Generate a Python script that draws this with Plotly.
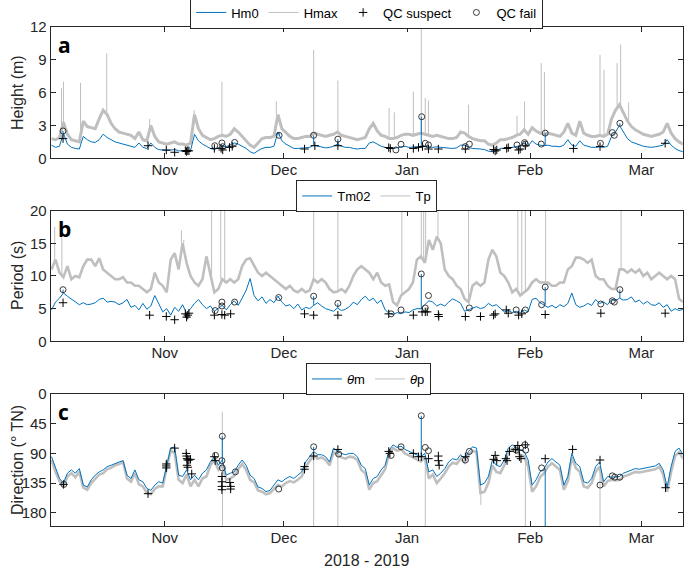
import numpy as np
import pandas as pd
import plotly.graph_objects as go

# ---------------- data ----------------
T0 = "2018-10-03 12:00"   # first daily sample
N_DAYS = 160

hm0 = [1.2,1.0,1.1,2.3,1.3,1.0,0.9,0.85,2.0,1.7,
       1.5,1.45,1.7,2.2,1.9,1.7,1.5,1.4,1.3,1.2,
       1.1,1.0,1.4,1.0,0.9,1.4,1.0,0.8,0.75,0.7,
       0.75,0.8,0.7,0.65,0.6,0.7,2.2,1.6,1.3,1.1,
       0.9,0.8,0.95,1.1,1.05,1.2,1.4,1.3,1.1,0.9,
       0.6,0.45,0.7,0.9,1.0,1.0,1.1,2.4,1.6,1.3,
       1.1,0.9,0.9,0.95,1.0,1.0,1.2,1.1,1.0,0.95,
       1.0,1.1,1.3,1.1,1.0,1.0,0.9,0.85,0.9,0.9,
       1.4,1.5,1.3,1.1,1.0,0.9,0.9,0.95,1.0,1.1,
       1.0,1.0,1.05,1.1,1.1,1.05,1.0,1.05,1.0,0.95,
       0.9,0.9,0.95,1.2,1.2,1.0,0.9,0.9,0.85,0.8,
       0.65,0.6,0.7,0.9,0.9,0.95,1.0,1.1,1.15,1.4,
       1.1,1.6,1.3,1.2,1.15,1.2,1.1,1.1,1.05,1.2,
       1.7,1.2,1.1,1.6,1.2,1.1,1.0,1.0,1.05,1.0,
       1.1,2.0,2.4,3.0,2.4,1.8,1.5,1.35,1.25,1.1,
       1.05,1.0,1.05,1.1,1.2,1.7,1.2,0.9,0.7,0.6]

hmax = [1.8,1.7,1.9,3.3,2.2,1.7,1.6,1.5,3.4,2.9,
        2.8,2.7,3.6,4.4,4.0,3.2,2.7,2.4,2.3,2.2,
        2.1,1.8,2.4,1.7,1.6,3.0,2.0,1.5,1.4,1.3,
        1.4,1.5,1.3,1.3,1.2,1.4,4.0,2.7,2.1,1.9,
        1.7,1.8,2.0,2.1,2.0,2.2,2.7,2.4,2.0,1.7,
        1.2,1.0,1.4,1.8,1.9,1.9,2.0,4.0,2.7,2.3,
        2.0,1.8,1.8,1.9,2.0,2.0,2.3,2.2,2.1,2.0,
        2.1,2.2,2.4,2.1,2.0,1.9,1.8,1.7,1.8,1.9,
        2.7,3.2,2.5,2.1,2.0,1.8,1.8,1.9,2.1,2.2,
        2.2,2.1,2.2,2.3,2.2,2.1,2.0,2.1,2.0,1.9,
        1.8,1.8,1.9,2.4,2.3,2.0,1.8,1.7,1.6,1.6,
        1.3,1.2,1.4,1.7,1.7,1.8,1.9,2.1,2.2,2.6,
        2.2,2.8,2.5,2.3,2.2,2.3,2.2,2.1,2.0,2.4,
        3.2,2.3,2.1,3.4,2.3,2.1,2.0,2.0,2.1,2.0,
        2.2,3.6,4.4,4.9,4.2,3.4,2.9,2.6,2.4,2.2,
        2.1,2.0,2.1,2.2,2.4,3.2,2.3,1.8,1.5,1.3]

tm02 = [4.8,6.0,6.6,7.4,6.9,6.5,6.0,5.6,5.9,5.6,
        5.7,5.9,6.4,6.6,6.0,6.1,6.0,5.6,5.9,6.4,
        5.2,5.5,4.8,5.8,4.9,5.4,7.0,5.8,4.5,5.0,
        4.0,5.2,4.6,5.6,4.3,5.0,5.8,6.4,5.6,5.0,
        5.4,4.6,5.0,5.5,4.8,5.6,6.2,5.5,6.6,7.8,
        9.6,7.0,6.2,6.8,5.8,6.4,5.9,6.9,6.0,5.4,
        5.6,5.0,5.7,4.8,5.2,5.0,5.5,5.9,5.4,5.0,
        4.8,4.6,5.1,4.7,4.9,5.3,6.0,5.6,6.4,6.9,
        6.2,6.6,5.8,6.3,4.8,4.3,4.1,4.4,4.2,4.5,
        4.4,4.8,5.0,5.0,5.6,6.2,6.0,5.4,5.7,5.4,
        6.0,6.5,6.2,5.8,4.6,4.8,5.0,5.3,5.0,5.2,
        5.8,5.4,5.6,5.0,4.5,4.7,4.4,4.6,4.4,4.8,
        4.5,6.4,6.6,5.9,5.6,5.2,5.5,5.1,5.6,5.3,
        5.8,7.4,5.6,5.2,5.4,5.8,5.5,6.4,5.8,6.0,
        5.6,6.4,6.2,6.6,6.3,6.4,6.8,6.0,6.3,5.7,
        6.1,5.6,5.5,5.9,5.2,5.6,4.6,5.0,4.7,4.9]

tp = [11.0,12.5,10.5,9.8,11.5,9.5,10.0,9.8,11.5,12.5,
      12.5,11.5,12.7,11.0,10.5,10.0,9.5,9.5,9.8,9.0,
      9.0,8.5,8.5,8.0,7.5,8.0,10.5,9.0,8.5,7.5,
      12.5,13.5,11.0,15.0,12.0,10.0,9.0,8.5,9.5,13.0,
      10.0,7.5,8.0,9.5,9.0,9.5,9.0,9.5,11.5,12.5,
      12.7,11.5,10.5,10.0,10.5,10.0,9.5,9.0,8.5,8.0,
      8.5,7.8,7.5,8.0,7.5,7.8,9.5,9.0,9.5,9.0,
      8.0,7.5,7.6,8.0,7.5,8.5,10.0,11.0,11.5,11.0,
      10.5,9.5,10.5,9.0,8.5,8.7,6.0,5.5,7.0,7.5,
      8.0,9.0,12.5,13.0,12.0,15.5,14.0,16.0,15.0,11.0,
      10.0,9.5,8.5,8.0,6.5,6.0,8.5,9.0,8.5,9.0,
      12.5,14.0,13.0,10.5,10.0,9.0,7.5,8.0,7.0,7.5,
      8.0,9.0,9.5,9.0,9.0,9.0,8.5,8.5,9.0,9.0,
      11.0,11.5,12.8,12.8,12.5,12.0,12.5,10.0,9.5,9.5,
      8.5,8.0,8.0,11.0,11.0,10.5,11.0,10.5,11.0,10.0,
      10.5,9.5,10.0,10.5,10.0,9.5,10.0,9.5,6.5,6.0]

theta_m = [95,113,128,135,120,115,120,113,138,141,
           130,123,118,115,110,108,105,103,101,123,
           128,115,130,133,143,146,138,133,135,108,
           82,80,123,125,115,130,123,130,120,115,
           103,95,108,100,123,120,118,108,100,108,
           123,128,141,143,148,146,138,130,133,128,
           125,128,123,118,103,95,87,92,92,95,
           103,82,87,90,92,90,90,95,108,113,
           138,128,125,115,108,85,77,81,79,84,
           87,90,92,95,90,118,115,125,120,113,
           103,98,100,92,98,87,80,82,138,135,
           125,100,108,110,100,82,77,82,85,87,
           100,138,130,118,113,103,98,103,108,138,
           125,90,105,110,133,135,128,110,103,133,
           125,126,126,125,120,118,115,113,114,113,
           111,110,109,105,115,141,110,87,82,92]

theta_p = [100,118,132,140,125,120,126,118,142,145,
           135,128,122,120,114,112,108,106,103,128,
           133,120,137,140,150,152,144,140,140,112,
           85,90,130,135,122,140,130,140,128,125,
           108,100,115,108,130,128,124,114,106,115,
           130,134,146,148,152,150,144,138,140,135,
           132,134,130,125,110,102,93,98,96,100,
           108,88,92,96,98,95,96,100,115,120,
           145,135,132,122,114,90,82,86,84,90,
           93,96,98,102,96,128,122,135,128,120,
           110,104,106,98,104,92,86,88,150,148,
           135,108,118,120,108,88,83,88,92,94,
           110,148,140,126,120,110,105,110,115,145,
           132,96,112,118,140,142,135,118,110,140,
           132,130,131,130,125,123,120,118,119,118,
           116,115,114,110,122,148,118,94,88,98]

# isolated spikes: (days since T0, value)
hmax_spike_day = [2.5,3.0,7.3,13.9,24.7,35.9,42.9,56.6,66.0,72.1,85.0,86.3,91.1,93.1,
                  94.1,94.9,105.0,117.2,119.1,123.3,124.1,138.1,139.1,142.4,143.3,145.3]
hmax_spike_val = [6.4,7.0,6.9,9.6,3.6,4.4,7.0,5.2,9.9,7.1,4.6,4.2,6.1,12.5,
                  5.5,5.3,4.9,3.9,5.2,8.7,7.9,9.45,8.1,8.7,10.4,5.1]
hm0_spike_day = [2.9,57.3,66.0,72.1,93.1,124.3,143.1]
hm0_spike_val = [2.5,2.1,2.1,1.75,3.8,2.3,3.2]

tp_spike_day = [0.8,2.6,32.7,33.3,40.3,42.6,43.6,66.0,72.1,88.2,93.1,93.7,94.2,97.3,
                105.0,117.4,118.4,119.3,124.4,143.4]
tp_spike_val = [17.5,16.5,17.0,15.5,22,22,22,22,22,22,22,22,22,22,
                22,22,22,22,22,22]
tm02_spike_day = [2.9,57.2,66.0,72.1,93.1,124.3,143.1]
tm02_spike_val = [7.9,6.7,6.9,5.8,10.3,8.3,7.9]

thp_spike_day = [43.0,43.05,66.0,72.1,94.1,108.1,119.3,138.1]
thp_spike_val = [27,200,200,200,200,168,200,200]
thm_spike_day = [43.0,66.0,93.1,124.3]
thm_spike_val = [64,80,33,200]

# QC flags: (days since T0, value)
a_fail_day = [2.9,41.1,42.9,43.1,46.1,57.3,66.0,72.1,86.7,88.0,93.2,94.1,94.9,104.2,105.2,
              117.2,119.1,119.3,123.3,124.3,138.2,141.2,141.7,143.1]
a_fail_val = [2.5,1.15,1.4,1.06,1.45,2.1,2.1,1.75,0.76,1.28,3.8,1.37,1.22,1.07,1.3,
              1.22,1.43,1.3,1.3,2.3,1.37,2.35,2.1,3.2]
a_susp_day = [2.9,24.3,28.9,31.0,33.7,34.0,34.3,34.6,41.0,42.7,43.1,44.8,45.5,63.7,66.3,
              72.1,84.9,85.3,91.1,92.4,93.4,94.9,97.4,104.2,111.3,111.7,112.1,114.6,115.0,
              117.6,118.0,119.3,131.4,138.1,154.5]
a_susp_val = [1.8,1.15,0.76,0.55,0.7,0.62,0.7,0.68,0.9,0.9,0.76,1.0,1.1,0.85,1.15,
              1.15,0.98,0.9,0.9,1.0,1.07,0.85,0.85,0.85,0.8,0.67,0.76,0.9,0.98,
              0.76,0.85,1.15,0.9,1.07,1.37]

b_fail_day = [2.9,41.2,42.9,42.9,46.1,57.2,66.0,72.1,85.5,88.0,93.1,94.1,94.9,105.2,
              117.0,119.3,123.4,124.3,138.3,141.2,141.7,143.1]
b_fail_val = [7.9,4.7,6.0,5.4,6.0,6.7,6.9,5.8,4.2,4.8,10.3,5.1,7.0,5.1,
              4.8,4.8,5.6,8.3,5.7,6.2,6.0,7.9]
b_susp_day = [2.9,24.7,28.9,31.0,33.7,34.0,34.3,34.6,41.0,42.9,43.6,45.1,63.7,66.0,72.1,
              84.9,91.1,93.3,94.1,94.6,97.4,97.5,104.2,108.0,111.3,111.7,114.5,115.0,
              117.6,118.4,124.3,138.3,154.5]
b_susp_val = [5.9,4.0,3.8,3.3,4.2,3.7,4.0,4.3,4.0,4.1,4.0,4.2,4.2,4.0,4.0,
              4.2,4.0,4.5,4.5,4.5,4.1,3.8,3.8,3.8,4.0,4.2,4.8,4.3,
              4.0,4.2,4.1,4.3,4.3]

c_fail_day = [3.1,41.3,42.9,43.0,43.0,46.3,57.2,66.0,72.3,85.5,88.0,93.1,94.1,94.9,104.2,
              105.2,117.0,119.2,119.4,123.4,138.1,141.2,141.8,143.1]
c_fail_val = [137,93,101,112,64,118,144,80,91,93,80,33,81,86,100,
              87,85,77,85,112,138,124,126,126]
c_susp_day = [3.0,24.3,28.9,28.9,28.9,31.0,33.9,34.0,34.1,34.3,34.6,35.0,34.1,34.3,35.3,
              41.0,41.2,42.9,42.9,42.9,42.9,44.9,45.1,45.1,63.7,63.7,66.0,72.1,
              84.9,85.2,91.1,92.4,93.1,94.9,97.4,97.4,97.6,104.2,111.3,111.7,112.1,
              114.4,114.7,115.3,116.8,117.4,117.8,117.8,118.2,119.3,124.3,131.2,138.1,154.6]
c_susp_val = [137,151,106,109,112,82,90,94,98,100,100,99,108,111,121,
              95,101,125,133,140,145,134,140,144,110,114,94,84,
              87,90,90,95,95,98,94,101,108,95,99,93,101,
              98,101,87,84,78,85,95,98,77,98,84,100,142]

month_ticks = ["2018-11-01", "2018-12-01", "2019-01-01", "2019-02-01", "2019-03-01"]
month_labels = ["Nov", "Dec", "Jan", "Feb", "Mar"]

# ---------------- build ----------------
t0 = pd.Timestamp(T0)
dates = t0 + pd.to_timedelta(np.arange(N_DAYS), unit="D")


def to_time(days):
    return t0 + pd.to_timedelta(np.asarray(days, dtype=float), unit="D")


def spikes(days, vals, base):
    xs, ys = [], []
    base = np.asarray(base, dtype=float)
    for d, v in zip(days, vals):
        k = int(np.clip(round(d), 0, len(base) - 1))
        t = to_time([d])[0]
        xs += [t, t, None]
        ys += [base[k], v, None]
    return xs, ys


BLUE = "#0072BD"
GREY = "#BFBFBF"
INK = "#262626"
FONT = "Liberation Sans"

fig = go.Figure()

panels = [
    dict(ax="", gvals=hmax, bvals=hm0, gsp=(hmax_spike_day, hmax_spike_val),
         bsp=(hm0_spike_day, hm0_spike_val), gname="Hmax", bname="Hm0", gw=3.0,
         fail=(a_fail_day, a_fail_val), susp=(a_susp_day, a_susp_val), leg="legend", qcleg=True),
    dict(ax="2", gvals=tp, bvals=tm02, gsp=(tp_spike_day, tp_spike_val),
         bsp=(tm02_spike_day, tm02_spike_val), gname="Tp", bname="Tm02", gw=2.6,
         fail=(b_fail_day, b_fail_val), susp=(b_susp_day, b_susp_val), leg="legend2", qcleg=False),
    dict(ax="3", gvals=theta_p, bvals=theta_m, gsp=(thp_spike_day, thp_spike_val),
         bsp=(thm_spike_day, thm_spike_val), gname="<i>θ</i>p", bname="<i>θ</i>m", gw=2.6,
         fail=(c_fail_day, c_fail_val), susp=(c_susp_day, c_susp_val), leg="legend3", qcleg=False),
]

for p in panels:
    xa, ya = "x" + p["ax"], "y" + p["ax"]
    fig.add_trace(go.Scatter(x=[None], y=[None], mode="lines", name=p["bname"],
                             line=dict(color=BLUE, width=1), xaxis=xa, yaxis=ya,
                             legend=p["leg"], legendrank=1))
    fig.add_trace(go.Scatter(x=[None], y=[None], mode="lines", name=p["gname"],
                             line=dict(color=GREY, width=1), xaxis=xa, yaxis=ya,
                             legend=p["leg"], legendrank=2))
    gx, gy = spikes(*p["gsp"], p["gvals"])
    fig.add_trace(go.Scatter(x=list(dates), y=list(p["gvals"]),
                             mode="lines", line=dict(color=GREY, width=p["gw"]),
                             xaxis=xa, yaxis=ya, showlegend=False, hoverinfo="skip"))
    fig.add_trace(go.Scatter(x=gx, y=gy, mode="lines", line=dict(color=GREY, width=1),
                             xaxis=xa, yaxis=ya, showlegend=False, hoverinfo="skip"))
    bx, by = spikes(*p["bsp"], p["bvals"])
    fig.add_trace(go.Scatter(x=list(dates) + [None] + bx, y=list(p["bvals"]) + [None] + by,
                             mode="lines", line=dict(color=BLUE, width=1),
                             xaxis=xa, yaxis=ya, showlegend=False, hoverinfo="skip"))
    fig.add_trace(go.Scatter(x=to_time(p["susp"][0]), y=p["susp"][1], mode="markers",
                             name="QC suspect", legend=p["leg"], legendrank=3,
                             showlegend=p["qcleg"],
                             marker=dict(symbol="cross-thin", size=6, color="black",
                                         line=dict(width=1, color="black")),
                             xaxis=xa, yaxis=ya))
    fig.add_trace(go.Scatter(x=to_time(p["fail"][0]), y=p["fail"][1], mode="markers",
                             name="QC fail", legend=p["leg"], legendrank=4,
                             showlegend=p["qcleg"],
                             marker=dict(symbol="circle-open", size=6, color=INK,
                                         line=dict(width=0.9, color=INK)),
                             xaxis=xa, yaxis=ya))

W, H = 685, 569
xl, xr = 50.7 / W, 682.7 / W
doms = [(1 - 158.3 / H, 1 - 27.0 / H), (1 - 341.3 / H, 1 - 210.6 / H), (1 - 526.0 / H, 1 - 394.0 / H)]

axis_common = dict(showline=True, linecolor=INK, linewidth=1, mirror="ticks", ticks="inside",
                   ticklen=5, tickwidth=1, tickcolor=INK, showgrid=False, zeroline=False,
                   tickfont=dict(family=FONT, size=15, color=INK))

layout = dict(width=W, height=H, margin=dict(l=0, r=0, t=0, b=0, autoexpand=False),
              paper_bgcolor="white", plot_bgcolor="white", hovermode=False)

yranges = [[0, 12], [0, 20], [200, 0]]
yticks = [[0, 3, 6, 9, 12], [0, 5, 10, 15, 20], [0, 45, 90, 135, 180]]
for k in range(3):
    sfx = "" if k == 0 else str(k + 1)
    layout["xaxis" + sfx] = dict(axis_common, domain=[xl, xr], anchor="y" + sfx, type="date",
                                 range=["2018-10-03 07:00", "2019-03-11 10:00"],
                                 tickvals=month_ticks, ticktext=month_labels,
                                 ticklabelstandoff=-2)
    layout["yaxis" + sfx] = dict(axis_common, domain=list(doms[k]), anchor="x" + sfx,
                                 range=yranges[k], tickvals=yticks[k], autorange=False)

legfont = dict(family=FONT, size=13, color="black")
leg_common = dict(orientation="h", xanchor="center", yanchor="middle", bordercolor=INK,
                  borderwidth=1, bgcolor="white", font=legfont, itemwidth=30,
                  tracegroupgap=0, traceorder="normal")
layout["legend"] = dict(leg_common, x=366.7 / W, y=1 - 12.5 / H)
layout["legend2"] = dict(leg_common, x=366.7 / W, y=1 - 196 / H)
layout["legend3"] = dict(leg_common, x=368.5 / W, y=1 - 379 / H)

fig.update_layout(**layout)

ann = []
for k, (letter, ytop) in enumerate([("a", 27.0), ("b", 210.6), ("c", 394.0)]):
    ann.append(dict(text="<b>%s</b>" % letter, xref="paper", yref="paper", x=56 / W,
                    y=1 - (ytop + 2) / H, xanchor="left", yanchor="top", showarrow=False,
                    font=dict(family="Open Sans", size=21, color="black")))
for text, yc in [("Height (m)", 93), ("Period (s)", 276), ("Direction (° TN)", 460)]:
    ann.append(dict(text=text, xref="paper", yref="paper", x=17 / W, y=1 - yc / H,
                    xanchor="center", yanchor="middle", textangle=-90, showarrow=False,
                    font=dict(family=FONT, size=16, color=INK)))
ann.append(dict(text="2018 - 2019", xref="paper", yref="paper", x=366.7 / W, y=1 - 560 / H,
                xanchor="center", yanchor="middle", showarrow=False,
                font=dict(family=FONT, size=16, color=INK)))
fig.update_layout(annotations=ann)

fig.write_html("out.html", config={"displayModeBar": False},
               post_script="document.body.style.margin='0';document.body.style.overflow='hidden';")
